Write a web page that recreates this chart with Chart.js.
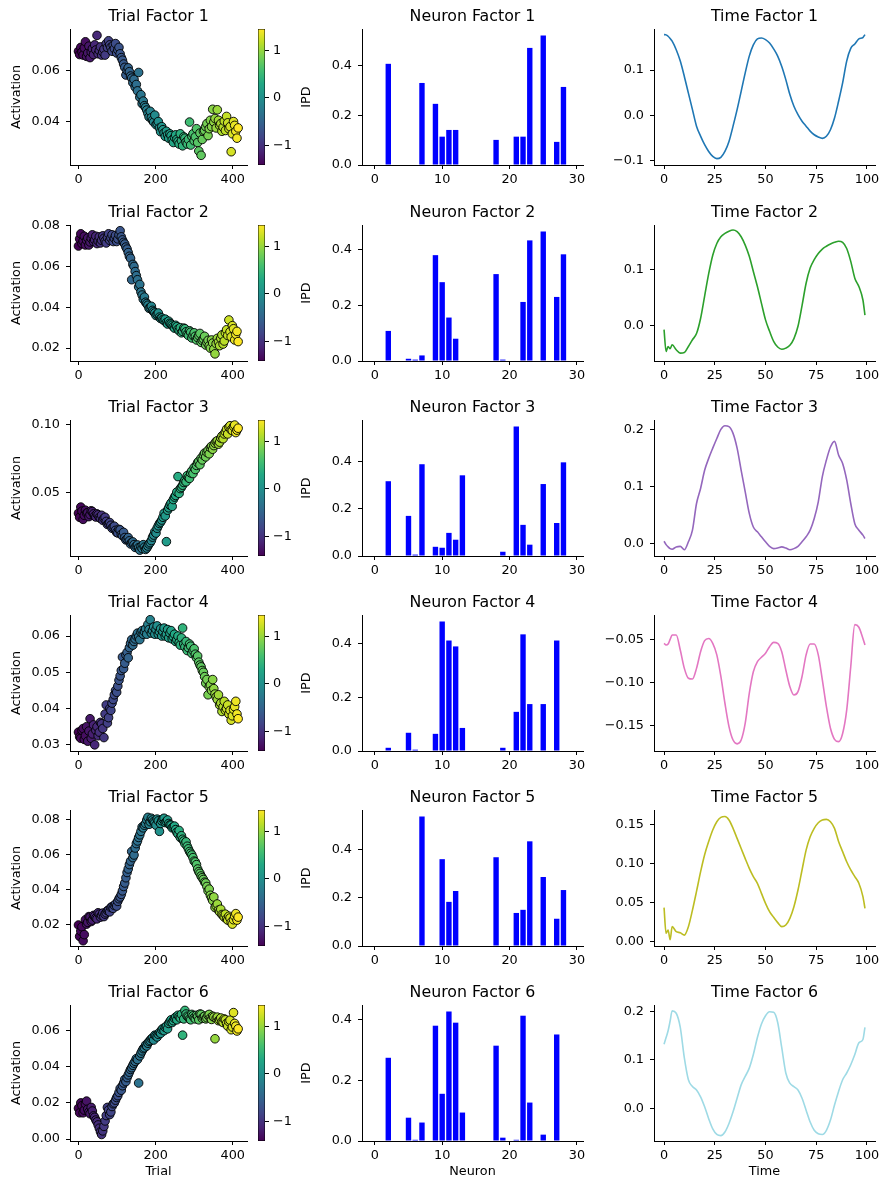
<!DOCTYPE html>
<html>
<head>
<meta charset="utf-8">
<script src="https://cdn.jsdelivr.net/npm/chart.js@4.4.1/dist/chart.umd.min.js"></script>
<style>
  html, body { margin: 0; padding: 0; background: #fff; }
  #fig { position: relative; width: 889px; height: 1189px; overflow: hidden; background: #fff; }
  #fig canvas { position: absolute; }
</style>
</head>
<body>
<div id="fig"></div>
<script>
// ---- data ----
const trials = [0,3,6,9,12,15,18,21,24,27,30,33,36,39,42,45,48,51,54,57,
  60,63,66,69,72,75,78,81,84,87,90,93,96,99,102,105,108,111,114,117,
  120,123,126,129,132,135,138,141,144,147,150,153,156,159,162,165,168,171,174,177,
  180,183,186,189,192,195,198,201,204,207,210,213,216,219,222,225,228,231,234,237,
  240,243,246,249,252,255,258,261,264,267,270,273,276,279,282,285,288,291,294,297,
  300,303,306,309,312,315,318,321,324,327,330,333,336,339,342,345,348,351,354,357,
  360,363,366,369,372,375,378,381,384,387,390,393,396,399,402,405,408,411,414];

const ipd = [-1.41,-1.38,-1.36,-1.35,-1.33,-1.31,-1.30,-1.26,-1.24,-1.24,-1.22,-1.19,-1.17,-1.13,-1.10,-1.10,-1.08,-1.05,-1.03,-1.01,
  -0.99,-0.97,-0.95,-0.92,-0.90,-0.88,-0.86,-0.85,-0.83,-0.80,-0.78,-0.76,-0.74,-0.73,-0.71,-0.68,-0.66,-0.64,-0.62,-0.60,
  -0.58,-0.57,-0.55,-0.51,-0.49,-0.48,-0.46,-0.43,-0.42,-0.40,-0.38,-0.36,-0.34,-0.32,-0.30,-0.28,-0.26,-0.24,-0.22,-0.20,
  -0.18,-0.17,-0.15,-0.12,-0.10,-0.08,-0.05,-0.04,-0.02,0.01,0.03,0.04,0.06,0.09,0.11,0.12,0.14,0.17,0.19,0.20,
  0.22,0.25,0.27,0.29,0.31,0.32,0.34,0.37,0.39,0.41,0.43,0.45,0.47,0.48,0.50,0.53,0.55,0.56,0.58,0.61,
  0.63,0.64,0.66,0.69,0.71,0.72,0.74,0.77,0.79,0.80,0.82,0.85,0.86,0.89,0.91,0.92,0.94,0.97,0.99,1.00,
  1.02,1.05,1.07,1.08,1.10,1.13,1.15,1.17,1.19,1.21,1.23,1.25,1.27,1.29,1.31,1.35,1.38,1.40,1.45];

const trialFactor1 = [.0675,.0662,.0690,.0672,.0660,.0688,.0712,.0655,.0668,.0695,.0650,.0672,.0685,.0662,.0700,.0680,.0737,.0665,.0678,.0692,
  .0660,.0672,.0683,.0660,.0705,.0690,.0716,.0700,.0690,.0675,.0698,.0685,.0705,.0668,.0680,.0690,.0665,.0650,.0640,.0625,
  .0612,.0582,.0600,.0610,.0595,.0578,.0570,.0552,.0565,.0535,.0545,.0520,.0592,.0495,.0505,.0470,.0480,.0462,.0455,.0445,
  .0432,.0418,.0440,.0415,.0405,.0398,.0425,.0388,.0392,.0400,.0375,.0360,.0380,.0368,.0355,.0342,.0362,.0348,.0335,.0352,
  .0345,.0328,.0318,.0338,.0348,.0330,.0322,.0312,.0352,.0325,.0305,.0340,.0335,.0320,.0312,.0330,.0398,.0308,.0342,.0352,
  .0325,.0340,.0372,.0318,.0285,.0355,.0268,.0330,.0362,.0365,.0380,.0392,.0345,.0372,.0405,.0380,.0448,.0398,.0412,.0375,
  .0446,.0405,.0385,.0392,.0362,.0378,.0402,.0365,.0420,.0395,.0372,.0380,.0282,.0352,.0400,.0385,.0362,.0335,.0375];
const trialFactor2 = [.0700,.0735,.0760,.0712,.0725,.0748,.0705,.0728,.0740,.0705,.0720,.0738,.0755,.0722,.0730,.0748,.0712,.0725,.0745,.0715,
  .0728,.0750,.0738,.0725,.0715,.0742,.0760,.0728,.0740,.0755,.0722,.0738,.0752,.0722,.0735,.0755,.0775,.0745,.0730,.0718,
  .0710,.0695,.0685,.0668,.0650,.0640,.0535,.0610,.0600,.0575,.0555,.0535,.0500,.0512,.0475,.0460,.0440,.0450,.0425,.0418,
  .0410,.0395,.0398,.0405,.0385,.0378,.0372,.0360,.0365,.0372,.0352,.0345,.0348,.0340,.0335,.0342,.0325,.0318,.0332,.0322,
  .0318,.0312,.0305,.0298,.0312,.0305,.0292,.0285,.0300,.0275,.0282,.0298,.0295,.0280,.0268,.0262,.0285,.0278,.0250,.0262,
  .0275,.0258,.0240,.0252,.0262,.0272,.0228,.0238,.0245,.0258,.0215,.0228,.0238,.0212,.0200,.0240,.0225,.0195,.0172,.0222,
  .0248,.0230,.0212,.0248,.0265,.0220,.0235,.0275,.0290,.0262,.0338,.0280,.0255,.0310,.0295,.0240,.0268,.0282,.0232];
const trialFactor3 = [.0350,.0320,.0395,.0365,.0305,.0335,.0372,.0350,.0355,.0325,.0340,.0368,.0362,.0345,.0330,.0322,.0345,.0338,.0320,.0312,
  .0335,.0298,.0312,.0320,.0290,.0268,.0275,.0282,.0262,.0240,.0248,.0255,.0225,.0210,.0205,.0232,.0228,.0195,.0185,.0210,
  .0172,.0155,.0160,.0172,.0148,.0125,.0135,.0140,.0120,.0100,.0110,.0118,.0098,.0080,.0105,.0092,.0120,.0102,.0085,.0095,
  .0110,.0125,.0135,.0150,.0175,.0190,.0215,.0205,.0240,.0258,.0275,.0285,.0300,.0320,.0350,.0330,.0142,.0372,.0390,.0410,
  .0425,.0400,.0450,.0468,.0480,.0505,.0618,.0495,.0530,.0540,.0555,.0575,.0590,.0580,.0625,.0610,.0605,.0645,.0660,.0640,
  .0685,.0670,.0700,.0720,.0730,.0705,.0752,.0740,.0775,.0790,.0762,.0795,.0810,.0785,.0830,.0840,.0818,.0845,.0862,.0875,
  .0880,.0855,.0870,.0900,.0915,.0895,.0930,.0945,.0965,.0930,.0980,.0990,.0960,.0955,.0985,.0995,.0940,.0958,.0972];
const trialFactor4 = [.0335,.0322,.0318,.0340,.0345,.0315,.0325,.0350,.0310,.0338,.0372,.0318,.0330,.0355,.0300,.0340,.0350,.0325,.0335,.0362,
  .0358,.0345,.0320,.0385,.0410,.0360,.0375,.0400,.0395,.0415,.0425,.0438,.0450,.0445,.0462,.0478,.0490,.0505,.0542,.0510,
  .0525,.0548,.0555,.0540,.0568,.0580,.0590,.0575,.0585,.0592,.0600,.0608,.0598,.0590,.0610,.0615,.0605,.0612,.0620,.0605,
  .0632,.0618,.0645,.0608,.0615,.0625,.0605,.0618,.0628,.0605,.0612,.0620,.0600,.0612,.0622,.0600,.0605,.0618,.0595,.0608,
  .0615,.0592,.0598,.0605,.0585,.0590,.0600,.0582,.0575,.0595,.0622,.0578,.0570,.0585,.0560,.0568,.0578,.0572,.0552,.0560,
  .0565,.0550,.0540,.0545,.0528,.0520,.0515,.0505,.0500,.0488,.0470,.0480,.0438,.0460,.0465,.0450,.0480,.0455,.0440,.0432,
  .0425,.0438,.0410,.0415,.0392,.0405,.0420,.0395,.0400,.0410,.0385,.0395,.0368,.0380,.0398,.0405,.0420,.0385,.0372];
const trialFactor5 = [.0200,.0135,.0165,.0190,.0110,.0145,.0230,.0205,.0215,.0248,.0245,.0220,.0228,.0255,.0250,.0240,.0235,.0270,.0262,.0245,
  .0255,.0268,.0248,.0262,.0270,.0282,.0285,.0275,.0300,.0305,.0295,.0312,.0320,.0308,.0335,.0350,.0360,.0375,.0395,.0420,
  .0440,.0470,.0500,.0520,.0545,.0565,.0620,.0585,.0600,.0640,.0665,.0680,.0700,.0715,.0735,.0760,.0755,.0770,.0780,.0800,
  .0815,.0775,.0790,.0810,.0800,.0790,.0785,.0770,.0805,.0795,.0735,.0780,.0795,.0805,.0810,.0785,.0790,.0800,.0780,.0772,
  .0770,.0755,.0760,.0765,.0745,.0730,.0720,.0740,.0700,.0710,.0690,.0680,.0665,.0675,.0650,.0635,.0620,.0610,.0600,.0585,
  .0565,.0560,.0545,.0520,.0505,.0495,.0480,.0470,.0460,.0445,.0440,.0420,.0395,.0405,.0370,.0355,.0340,.0360,.0300,.0310,
  .0320,.0285,.0275,.0290,.0260,.0255,.0245,.0262,.0235,.0228,.0250,.0240,.0215,.0205,.0230,.0250,.0265,.0228,.0245];
const trialFactor6 = [.0170,.0145,.0200,.0185,.0145,.0160,.0195,.0210,.0165,.0150,.0140,.0175,.0155,.0128,.0120,.0105,.0095,.0078,.0060,.0040,
  .0025,.0045,.0070,.0100,.0130,.0175,.0160,.0135,.0150,.0180,.0195,.0200,.0215,.0230,.0240,.0258,.0280,.0270,.0295,.0310,
  .0330,.0318,.0340,.0355,.0370,.0385,.0395,.0408,.0420,.0430,.0445,.0440,.0310,.0460,.0475,.0488,.0500,.0505,.0520,.0515,
  .0530,.0540,.0545,.0555,.0560,.0548,.0575,.0572,.0565,.0580,.0590,.0585,.0605,.0612,.0600,.0618,.0625,.0610,.0640,.0650,
  .0660,.0645,.0655,.0668,.0675,.0660,.0685,.0678,.0670,.0690,.0575,.0665,.0712,.0692,.0680,.0675,.0665,.0660,.0690,.0682,
  .0672,.0665,.0685,.0678,.0660,.0692,.0690,.0668,.0675,.0680,.0665,.0672,.0685,.0690,.0670,.0662,.0680,.0675,.0555,.0668,
  .0675,.0655,.0660,.0670,.0650,.0645,.0665,.0660,.0640,.0625,.0650,.0658,.0605,.0620,.0700,.0640,.0625,.0598,.0610];

const neurons = [0,1,2,3,4,5,6,7,8,9,10,11,12,13,14,15,16,17,18,19,20,21,22,23,24,25,26,27,28,29];
const neuronFactor1 = [0,0,0.407,0,0,0,0,0.330,0,0.246,0.114,0.141,0.141,0,0,0,0,0,0.101,0,0,0.114,0.114,0.471,0,0.521,0,0.093,0.314,0];
const neuronFactor2 = [0,0,0.108,0,0,0.008,0.005,0.020,0,0.380,0.283,0.156,0.080,0,0,0,0,0,0.312,0.005,0,0,0.212,0.433,0,0.465,0,0.230,0.383,0];
const neuronFactor3 = [0,0,0.317,0,0,0.170,0.006,0.389,0,0.039,0.035,0.098,0.069,0.342,0,0,0,0,0,0.018,0,0.549,0.132,0.048,0,0.305,0,0.140,0.397,0];
const neuronFactor4 = [0,0,0.012,0,0,0.068,0.005,0,0,0.064,0.483,0.412,0.390,0.086,0,0,0,0,0,0.012,0,0.146,0.435,0.175,0,0.175,0,0.412,0,0];
const neuronFactor5 = [0,0,0,0,0,0,0,0.537,0,0,0.360,0.183,0.228,0,0,0,0,0,0.368,0,0,0.137,0.150,0.434,0,0.286,0,0.113,0.232,0];
const neuronFactor6 = [0,0,0.275,0,0,0.077,0.004,0.061,0,0.381,0.156,0.428,0.391,0.094,0,0,0,0,0.315,0.011,0,0.004,0.414,0.127,0,0.021,0,0.352,0,0];

const times = [0,1,2,3,4,6,8,10,12,14,16,18,20,22,24,26,28,30,32,34,36,38,40,42,44,46,48,
  50,52,54,56,58,60,62,64,66,68,70,72,74,76,78,80,82,84,86,88,90,92,94,96,98,99];
const timeFactor1 = [0.1786,0.178,0.175,0.170,0.164,
  0.145,0.120,0.086,0.049,0.0125,-0.024,-0.046,-0.065,-0.080,-0.091,
  -0.096,-0.093,-0.080,-0.058,-0.024,0.0125,0.053,0.094,0.131,0.156,
  0.169,0.171,0.1675,0.160,0.147,0.131,0.108,0.079,0.046,0.020,
  0.0015,-0.013,-0.024,-0.035,-0.043,-0.048,-0.051,-0.0465,-0.032,-0.006,
  0.031,0.0716,0.120,0.148,0.158,0.169,0.172,0.1786];
const timeFactor2 = [-0.008,-0.047,-0.038,-0.042,-0.035,
  -0.044,-0.050,-0.049,-0.038,-0.026,-0.015,0.012,0.052,0.092,0.125,
  0.146,0.158,0.164,0.168,0.170,0.167,0.158,0.143,0.123,0.096,
  0.069,0.039,0.0095,-0.011,-0.029,-0.039,-0.043,-0.041,-0.036,-0.024,
  -0.002,0.035,0.075,0.102,0.117,0.128,0.136,0.141,0.145,0.148,
  0.150,0.148,0.137,0.114,0.084,0.069,0.045,0.018];
const timeFactor3 = [0.004,-0.002,-0.006,-0.009,-0.010,
  -0.006,-0.005,-0.011,0.003,0.0235,0.0705,0.097,0.129,0.150,0.168,
  0.185,0.201,0.2076,0.206,0.194,0.168,0.129,0.091,0.053,0.029,
  0.0206,0.0118,0.003,-0.005,-0.009,-0.008,-0.006,-0.008,-0.011,-0.009,
  -0.005,0.003,0.0118,0.0235,0.044,0.0735,0.118,0.147,0.170,0.180,
  0.156,0.141,0.112,0.0705,0.035,0.0235,0.0147,0.0088];
const timeFactor4 = [-0.0546,-0.0566,-0.0554,-0.050,-0.045,
  -0.045,-0.0624,-0.0836,-0.095,-0.096,-0.0836,-0.0643,-0.0515,-0.049,-0.0546,
  -0.068,-0.093,-0.124,-0.151,-0.1666,-0.171,-0.1666,-0.147,-0.1125,-0.0875,
  -0.0759,-0.0708,-0.066,-0.0585,-0.0535,-0.0546,-0.0643,-0.0855,-0.1048,-0.1145,
  -0.1106,-0.093,-0.068,-0.0554,-0.0554,-0.068,-0.097,-0.128,-0.153,-0.1658,
  -0.1685,-0.159,-0.132,-0.0817,-0.033,-0.036,-0.049,-0.0566];
const timeFactor5 = [0.0432,0.0103,0.0145,0.002,0.0188,
  0.0124,0.011,0.008,0.0188,0.040,0.064,0.089,0.111,0.128,0.1427,
  0.1534,0.159,0.160,0.1556,0.1449,0.132,0.119,0.106,0.0936,0.083,
  0.0744,0.0615,0.0487,0.038,0.0308,0.024,0.0188,0.021,0.0295,0.0444,
  0.0658,0.0915,0.117,0.134,0.1449,0.152,0.1556,0.1564,0.1534,0.1449,
  0.128,0.115,0.102,0.0915,0.083,0.0744,0.0573,0.0423];
const timeFactor6 = [0.132,0.146,0.160,0.180,0.201,
  0.196,0.167,0.104,0.059,0.045,0.038,0.024,0.0035,-0.021,-0.042,
  -0.0535,-0.056,-0.0486,-0.031,-0.007,0.021,0.0486,0.066,0.083,0.111,
  0.146,0.174,0.191,0.199,0.198,0.177,0.125,0.073,0.052,0.045,
  0.038,0.021,-0.0035,-0.028,-0.045,-0.052,-0.0535,-0.045,-0.024,0.007,
  0.035,0.059,0.073,0.090,0.111,0.135,0.142,0.167];

const trialTicks = [0, 200, 400];
const neuronTicks = [0, 10, 20, 30];
const timeTicks = [0, 25, 50, 75, 100];
const ipdTicks = [-1, 0, 1];
const trialYTicks = [[0.04, 0.06], [0.02, 0.04, 0.06, 0.08], [0.05, 0.10],
  [0.03, 0.04, 0.05, 0.06], [0.02, 0.04, 0.06, 0.08], [0.00, 0.02, 0.04, 0.06]];
const neuronYTicks = [0, 0.2, 0.4];
const timeYTicks = [[-0.1, 0, 0.1], [0, 0.1], [0, 0.1, 0.2],
  [-0.15, -0.10, -0.05], [0, 0.05, 0.10, 0.15], [0, 0.1, 0.2]];

// ---- axis limits and styling ----
const trialYLim = [[0.0230, 0.0762], [0.0137, 0.0803], [0.0037, 0.1032],
  [0.0283, 0.0658], [0.0080, 0.0857], [-0.0011, 0.0742]];
const timeYLim = [[-0.110, 0.191], [-0.064, 0.179], [-0.022, 0.2176],
  [-0.1793, -0.0218], [-0.006, 0.1684], [-0.067, 0.213]];
const trialYDec = [2, 2, 2, 2, 2, 2];
const timeYDec = [1, 1, 1, 2, 2, 1];
const timeColors = ['#1f77b4', '#2ca02c', '#9467bd', '#e377c2', '#bcbd22', '#9edae5'];
const VIRIDIS = ['#440154','#482475','#414487','#355f8d','#2a788e','#21918c',
  '#22a884','#44bf70','#7ad151','#bddf26','#fde725'];

const trialData = [trialFactor1, trialFactor2, trialFactor3, trialFactor4, trialFactor5, trialFactor6];
const neuronData = [neuronFactor1, neuronFactor2, neuronFactor3, neuronFactor4, neuronFactor5, neuronFactor6];
const timeData = [timeFactor1, timeFactor2, timeFactor3, timeFactor4, timeFactor5, timeFactor6];

const ipdMin = Math.min(...ipd), ipdMax = Math.max(...ipd);

Chart.defaults.font.family = "'DejaVu Sans', sans-serif";
Chart.defaults.color = '#000';
Chart.defaults.animation = false;

const fig = document.getElementById('fig');
const ROW_TOP = [29, 225, 420, 615, 810, 1005];
const AX_H = 136;
const TITLE_H = 23;
const PAD_R = 14;
const TICK_FONT = { size: 12.8 };

function hexRgb(h) {
  return [parseInt(h.slice(1, 3), 16), parseInt(h.slice(3, 5), 16), parseInt(h.slice(5, 7), 16)];
}
function viridis(f) {
  f = Math.min(1, Math.max(0, f));
  const p = f * 10, i = Math.min(9, Math.floor(p)), r = p - i;
  const a = hexRgb(VIRIDIS[i]), b = hexRgb(VIRIDIS[i + 1]);
  return 'rgb(' + a.map((v, k) => Math.round(v + (b[k] - v) * r)).join(',') + ')';
}
function fmt(v, dec) {
  const s = Math.abs(v) < 1e-12 ? (0).toFixed(dec) : v.toFixed(dec);
  return s.replace('-', '\u2212');
}

function axis(min, max, ticks, dec, pad, extra) {
  return Object.assign({
    type: 'linear', min: min, max: max, bounds: 'data', offset: false,
    afterBuildTicks: s => { s.ticks = ticks.map(v => ({ value: v })); },
    ticks: { autoSkip: false, maxRotation: 0, minRotation: 0, padding: pad, font: TICK_FONT,
             color: '#000', callback: v => fmt(v, dec) },
    grid: { drawOnChartArea: false, drawTicks: true, tickLength: 4, tickColor: '#000', tickWidth: 1, offset: false },
    border: { display: true, color: '#000', width: 1 }
  }, extra || {});
}

function panel(type, datasets, o) {
  const w = o.yw + (o.right - o.left) + PAD_R;
  const h = TITLE_H + AX_H + o.xh;
  const c = document.createElement('canvas');
  c.width = w; c.height = h;
  c.style.left = (o.left - o.yw) + 'px';
  c.style.top = (o.top - TITLE_H) + 'px';
  c.style.width = w + 'px'; c.style.height = h + 'px';
  fig.appendChild(c);
  o.x.afterFit = s => { s.height = o.xh; };
  o.y.afterFit = s => { s.width = o.yw; };
  return new Chart(c, {
    type: type,
    data: { datasets: datasets },
    options: {
      responsive: false, animation: false, events: [],
      layout: { padding: { left: 0, right: PAD_R, top: 0, bottom: 0 } },
      scales: { x: o.x, y: o.y },
      plugins: {
        legend: { display: false },
        tooltip: { enabled: false },
        title: { display: true, text: o.title, fullSize: false, color: '#000',
                 font: { size: 15.8, weight: 'normal' }, padding: { top: 1, bottom: 3.04 } }
      }
    }
  });
}

const ipdLabel = {
  id: 'ipdLabel',
  afterDraw(chart) {
    const { ctx, chartArea } = chart;
    ctx.save();
    ctx.font = "12.8px 'DejaVu Sans'";
    ctx.fillStyle = '#000';
    ctx.textAlign = 'center';
    ctx.textBaseline = 'middle';
    ctx.translate(chartArea.right + 42, (chartArea.top + chartArea.bottom) / 2);
    ctx.rotate(-Math.PI / 2);
    ctx.fillText('IPD', 0, 0);
    ctx.restore();
  }
};

function colorbar(top) {
  const left = 258, right = 265, yw = 55, m = 16;
  const w = (right - left) + yw, h = AX_H + 2 * m;
  const c = document.createElement('canvas');
  c.width = w; c.height = h;
  c.style.left = left + 'px'; c.style.top = (top - m) + 'px';
  c.style.width = w + 'px'; c.style.height = h + 'px';
  fig.appendChild(c);
  new Chart(c, {
    type: 'bar',
    data: {
      labels: [''],
      datasets: [{
        data: [[ipdMin, ipdMax]],
        backgroundColor: ctx => {
          const a = ctx.chart.chartArea;
          if (!a) return '#21918c';
          const g = ctx.chart.ctx.createLinearGradient(0, a.bottom, 0, a.top);
          VIRIDIS.forEach((col, k) => g.addColorStop(k / (VIRIDIS.length - 1), col));
          return g;
        },
        borderColor: '#000', borderWidth: 0.8, borderSkipped: false,
        barPercentage: 1, categoryPercentage: 1
      }]
    },
    options: {
      responsive: false, animation: false, events: [],
      layout: { padding: { left: 0, right: 0, top: m, bottom: m } },
      scales: {
        x: { display: false },
        y: {
          position: 'right', min: ipdMin, max: ipdMax, bounds: 'data',
          afterBuildTicks: s => { s.ticks = ipdTicks.map(v => ({ value: v })); },
          afterFit: s => { s.width = yw; },
          ticks: { autoSkip: false, padding: 4, font: TICK_FONT, color: '#000', callback: v => fmt(v, 0) },
          grid: { drawOnChartArea: false, drawTicks: true, tickLength: 4, tickColor: '#000' },
          border: { display: false }
        }
      },
      plugins: { legend: { display: false }, tooltip: { enabled: false } }
    },
    plugins: [ipdLabel]
  });
}

for (let r = 0; r < 6; r++) {
  const top = ROW_TOP[r];
  const last = r === 5;
  const xh = last ? 42 : 28;
  const xTitle = txt => ({ display: last, text: txt, font: TICK_FONT, color: '#000', padding: { top: 0, bottom: 3.3 } });

  // trial factor scatter
  panel('scatter', [{
    data: trials.map((t, i) => ({ x: t, y: trialData[r][i] })),
    pointRadius: 4.3,
    pointBorderWidth: 0.9,
    pointBorderColor: '#000',
    pointBackgroundColor: ipd.map(v => viridis((v - ipdMin) / (ipdMax - ipdMin)))
  }], {
    left: 70, right: 247, top: top, yw: 70, xh: xh,
    title: 'Trial Factor ' + (r + 1),
    x: axis(-22, 437, trialTicks, 0, 3, { title: xTitle('Trial') }),
    y: axis(trialYLim[r][0], trialYLim[r][1], trialYTicks[r], trialYDec[r], 6,
            { title: { display: true, text: 'Activation', font: TICK_FONT, color: '#000', padding: { top: 9.3, bottom: 0 } } })
  });
  colorbar(top);

  // neuron factor bars
  const nmax = Math.max(...neuronData[r]) * 1.05;
  panel('bar', [{
    data: neurons.map((n, i) => ({ x: n, y: neuronData[r][i] })),
    backgroundColor: '#0000ff',
    borderWidth: 0,
    barPercentage: 0.8,
    categoryPercentage: 1
  }], {
    left: 362, right: 583, top: top, yw: 50, xh: xh,
    title: 'Neuron Factor ' + (r + 1),
    x: axis(-1.9, 30.9, neuronTicks, 0, 3, { title: xTitle('Neuron') }),
    y: axis(0, nmax, neuronYTicks, 1, 6)
  });

  // time factor lines
  panel('line', [{
    data: times.map((t, i) => ({ x: t, y: timeData[r][i] })),
    borderColor: timeColors[r],
    borderWidth: 1.6,
    pointRadius: 0,
    cubicInterpolationMode: 'monotone',
    fill: false
  }], {
    left: 654, right: 875, top: top, yw: 62, xh: xh,
    title: 'Time Factor ' + (r + 1),
    x: axis(-4.95, 103.95, timeTicks, 0, 3, { title: xTitle('Time') }),
    y: axis(timeYLim[r][0], timeYLim[r][1], timeYTicks[r], timeYDec[r], 6)
  });
}
</script>
</body>
</html>
